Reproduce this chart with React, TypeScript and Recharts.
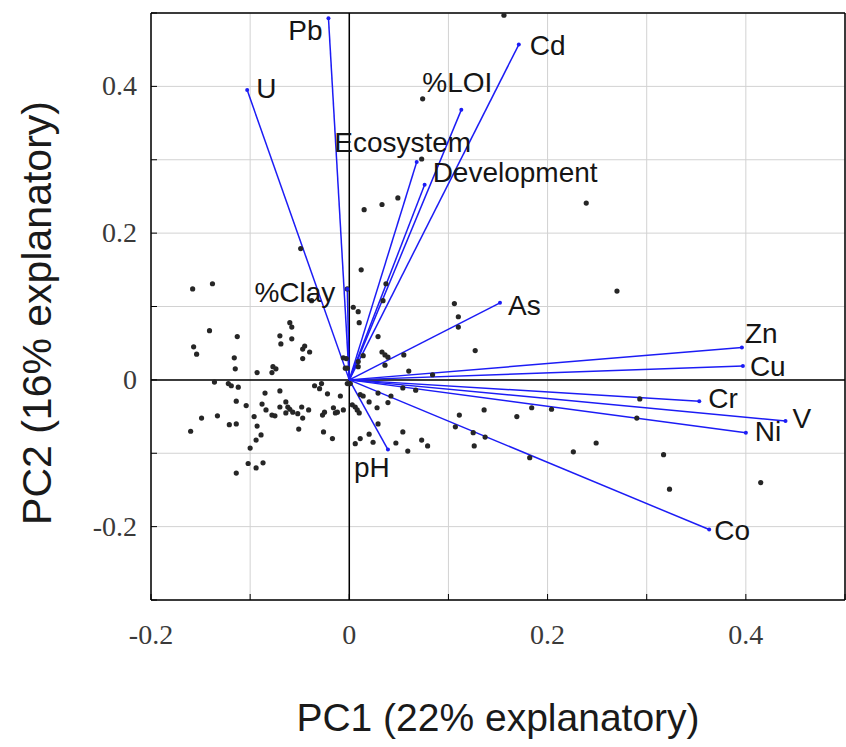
import React from 'react';
import { ScatterChart, Scatter, XAxis, YAxis, CartesianGrid, ReferenceLine, Label } from 'recharts';

// ---- data ----
const xTicks = [-0.2, -0.1, 0, 0.1, 0.2, 0.3, 0.4, 0.5];
const yTicks = [-0.3, -0.2, -0.1, 0, 0.1, 0.2, 0.3, 0.4, 0.5];
const xTickLabels = ['-0.2', '0', '0.2', '0.4'];
const yTickLabels = ['-0.2', '0', '0.2', '0.4'];

const xTitle = 'PC1 (22% explanatory)';
const yTitle = 'PC2 (16% explanatory)';

// sample scores (PC1, PC2)
const samplePC1 = [
  -0.158, -0.138, -0.141, -0.113, -0.157, -0.154, -0.116, -0.115, -0.093, -0.060,
  -0.058, -0.070, -0.069, -0.058, -0.047, -0.045, -0.040, -0.047, -0.077, -0.074,
  -0.078, -0.049, -0.038, -0.136, -0.122, -0.119, -0.112, -0.114, -0.104, -0.149,
  -0.133, -0.160, -0.121, -0.114, -0.096, -0.093, -0.089, -0.094, -0.100, -0.102,
  -0.094, -0.087, -0.114, -0.085, -0.070, -0.088, -0.084, -0.078, -0.075, -0.070,
  -0.064, -0.062, -0.060, -0.064, -0.057, -0.052, -0.048, -0.047, -0.041, -0.051,
  -0.035, -0.028, -0.030, -0.022, -0.027, -0.025, -0.016, -0.014, -0.012, -0.006,
  -0.026, -0.017, -0.009, -0.002, 0.012, -0.002, 0.037, 0.034, 0.004, 0.009,
  0.010, 0.106, 0.110, 0.110, 0.029, 0.033, 0.036, 0.039, 0.036, 0.055,
  0.127, -0.003, -0.004, -0.002, 0.009, 0.014, 0.009, 0.060, 0.084, 0.073,
  0.049, 0.033, 0.015, 0.074, 0.156, 0.239, 0.270, -0.006, 0.003, 0.006,
  0.008, 0.010, 0.011, 0.014, 0.020, 0.028, 0.039, 0.029, 0.042, 0.029,
  0.020, 0.011, 0.006, 0.024, 0.047, 0.054, 0.059, 0.073, 0.079, 0.054,
  0.067, 0.111, 0.136, 0.107, 0.125, 0.137, 0.126, 0.169, 0.184, 0.204,
  0.182, 0.226, 0.249, 0.293, 0.290, 0.317, 0.323, 0.415, 0.001,
];
const samplePC2 = [
  0.124, 0.131, 0.067, 0.059, 0.045, 0.035, 0.030, 0.015, 0.010, 0.078,
  0.072, 0.060, 0.049, 0.056, 0.042, 0.046, 0.038, 0.029, 0.018, 0.015,
  0.010, 0.179, 0.108, -0.003, -0.005, -0.008, -0.010, -0.029, -0.035, -0.052,
  -0.049, -0.070, -0.061, -0.060, -0.050, -0.063, -0.075, -0.082, -0.093, -0.114,
  -0.120, -0.113, -0.127, -0.018, -0.015, -0.033, -0.041, -0.048, -0.049, -0.037,
  -0.030, -0.037, -0.040, -0.045, -0.044, -0.046, -0.037, -0.052, -0.041, -0.067,
  -0.008, -0.005, -0.012, -0.019, -0.048, -0.044, -0.038, -0.045, -0.044, -0.041,
  -0.071, -0.080, -0.022, -0.005, 0.150, 0.124, 0.131, 0.108, 0.099, 0.093,
  0.078, 0.104, 0.086, 0.072, 0.059, 0.038, 0.034, 0.031, 0.020, 0.034,
  0.040, 0.029, 0.016, 0.016, 0.025, 0.033, 0.018, 0.012, 0.007, 0.301,
  0.248, 0.239, 0.232, 0.383, 0.497, 0.241, 0.121, 0.030, -0.034, -0.037,
  -0.041, -0.045, -0.020, -0.022, -0.030, -0.038, -0.031, -0.018, -0.022, -0.060,
  -0.074, -0.080, -0.087, -0.085, -0.086, -0.071, -0.097, -0.082, -0.090, -0.011,
  -0.014, -0.048, -0.041, -0.064, -0.072, -0.078, -0.090, -0.050, -0.038, -0.040,
  -0.106, -0.098, -0.086, -0.026, -0.052, -0.102, -0.149, -0.140, -0.005,
];

// variable loadings
const loadingNames = ['Pb', 'U', 'Cd', '%LOI', 'Ecosystem', 'Development', '%Clay', 'As', 'Zn', 'Cu', 'Cr', 'V', 'Ni', 'Co', 'pH'];
const loadingPC1 = [-0.021, -0.103, 0.171, 0.113, 0.068, 0.076, -0.002, 0.152, 0.396, 0.397, 0.353, 0.440, 0.400, 0.363, 0.039];
const loadingPC2 = [0.493, 0.395, 0.457, 0.368, 0.297, 0.266, 0.124, 0.105, 0.044, 0.019, -0.029, -0.056, -0.072, -0.204, -0.095];

// ---- styles (label placement relative to the vector tip, in px) ----
const labelPlacement: Record<string, { dx: number; dy: number; anchor: 'start' | 'middle' | 'end' }> = {
  Pb: { dx: -6, dy: 12, anchor: 'end' },
  U: { dx: 9, dy: -2, anchor: 'start' },
  Cd: { dx: 11, dy: 0, anchor: 'start' },
  '%LOI': { dx: -4, dy: -28, anchor: 'middle' },
  Ecosystem: { dx: -14, dy: -20, anchor: 'middle' },
  Development: { dx: 8, dy: -13, anchor: 'start' },
  '%Clay': { dx: -12, dy: 3, anchor: 'end' },
  As: { dx: 8, dy: 2, anchor: 'start' },
  Zn: { dx: 3, dy: -15, anchor: 'start' },
  Cu: { dx: 7, dy: 0, anchor: 'start' },
  Cr: { dx: 9, dy: -3, anchor: 'start' },
  V: { dx: 7, dy: -3, anchor: 'start' },
  Ni: { dx: 9, dy: -2, anchor: 'start' },
  Co: { dx: 5, dy: 0, anchor: 'start' },
  pH: { dx: -16, dy: 17, anchor: 'middle' },
};

const W = 846;
const H = 745;
const PLOT_LEFT = 151;
const PLOT_BOTTOM_GAP = 145;
const VEC_COLOR = '#1c1cf5';
const SANS = '"Liberation Sans", Arial, sans-serif';
const SERIF = '"Liberation Serif", "Times New Roman", serif';

const samples = samplePC1.map((x, i) => ({ x, y: samplePC2[i] }));
const loadings = loadingNames.map((name, i) => ({ name, x: loadingPC1[i], y: loadingPC2[i] }));

const fmt = (v: number) => (Math.abs(v) < 1e-9 ? '0' : String(Math.round(v * 10) / 10));

const XTick = (props: any) => {
  const { x, y, payload } = props;
  const lbl = fmt(payload.value);
  const show = xTickLabels.includes(lbl);
  return (
    <g>
      <line x1={x} x2={x} y1={y} y2={y - 6} stroke="#000" strokeWidth={1} />
      {show && (
        <text x={x} y={y + 44} textAnchor="middle" fontFamily={SERIF} fontSize={28} fill="#3a3a3a">
          {lbl}
        </text>
      )}
    </g>
  );
};

const YTick = (props: any) => {
  const { x, y, payload } = props;
  const lbl = fmt(payload.value);
  const show = yTickLabels.includes(lbl);
  return (
    <g>
      <line x1={x} x2={x + 6} y1={y} y2={y} stroke="#000" strokeWidth={1} />
      {show && (
        <text x={x - 14} y={y + 9} textAnchor="end" fontFamily={SERIF} fontSize={28} fill="#3a3a3a">
          {lbl}
        </text>
      )}
    </g>
  );
};

const SampleDot = (props: any) => {
  const { cx, cy } = props;
  return <circle cx={cx} cy={cy} r={2.6} fill="#262626" />;
};

const TipShape = (props: any) => {
  const { cx, cy, payload } = props;
  const p = labelPlacement[payload.name];
  return (
    <g>
      <circle cx={cx} cy={cy} r={2} fill={VEC_COLOR} />
      <text
        x={cx + p.dx}
        y={cy + p.dy}
        dy="0.36em"
        textAnchor={p.anchor}
        fontFamily={SANS}
        fontSize={28}
        fill="#151515"
      >
        {payload.name}
      </text>
    </g>
  );
};

export default function App() {
  return (
    <div style={{ position: 'absolute', left: 0, top: 0, width: W, height: H, background: '#fff' }}>
      <ScatterChart width={W} height={H} margin={{ top: 13, right: 1, bottom: 0, left: 0 }}>
        <CartesianGrid stroke="#d2d2d2" strokeWidth={1} />
        <XAxis
          type="number"
          dataKey="x"
          domain={[-0.2, 0.5]}
          ticks={xTicks}
          allowDataOverflow
          height={PLOT_BOTTOM_GAP}
          tickSize={0}
          tickMargin={0}
          tickLine={false}
          axisLine={{ stroke: '#000', strokeWidth: 1.5 }}
          tick={<XTick />}
          interval={0}
        >
          <Label
            content={(lp: any) => {
              const vb = lp.viewBox;
              return (
                <text x={vb.x + vb.width / 2} y={vb.y + 131} textAnchor="middle" fontFamily={SANS} fontSize={39} fill="#1a1a1a">
                  {xTitle}
                </text>
              );
            }}
          />
        </XAxis>
        <YAxis
          type="number"
          dataKey="y"
          domain={[-0.3, 0.5]}
          ticks={yTicks}
          allowDataOverflow
          width={PLOT_LEFT}
          tickSize={0}
          tickMargin={0}
          tickLine={false}
          axisLine={{ stroke: '#000', strokeWidth: 1.5 }}
          tick={<YTick />}
          interval={0}
        >
          <Label
            content={(lp: any) => {
              const vb = lp.viewBox;
              const cx = 36;
              const cy = vb.y + 300;
              return (
                <text
                  x={cx}
                  y={cy}
                  dy="0.36em"
                  textAnchor="middle"
                  fontFamily={SANS}
                  fontSize={41}
                  fill="#1a1a1a"
                  transform={`rotate(-90, ${cx}, ${cy})`}
                >
                  {yTitle}
                </text>
              );
            }}
          />
        </YAxis>
        <ReferenceLine y={0.5} stroke="#000" strokeWidth={1.5} ifOverflow="extendDomain" />
        <ReferenceLine x={0.5} stroke="#000" strokeWidth={1.5} ifOverflow="extendDomain" />
        <ReferenceLine x={0} stroke="#000" strokeWidth={1.5} />
        <ReferenceLine y={0} stroke="#000" strokeWidth={1.5} />
        <Scatter data={samples} shape={<SampleDot />} isAnimationActive={false} />
        {loadings.map((l) => (
          <ReferenceLine
            key={l.name}
            segment={[{ x: 0, y: 0 }, { x: l.x, y: l.y }]}
            stroke={VEC_COLOR}
            strokeWidth={1.5}
          />
        ))}
        <Scatter data={loadings} shape={<TipShape />} isAnimationActive={false} />
      </ScatterChart>
    </div>
  );
}
